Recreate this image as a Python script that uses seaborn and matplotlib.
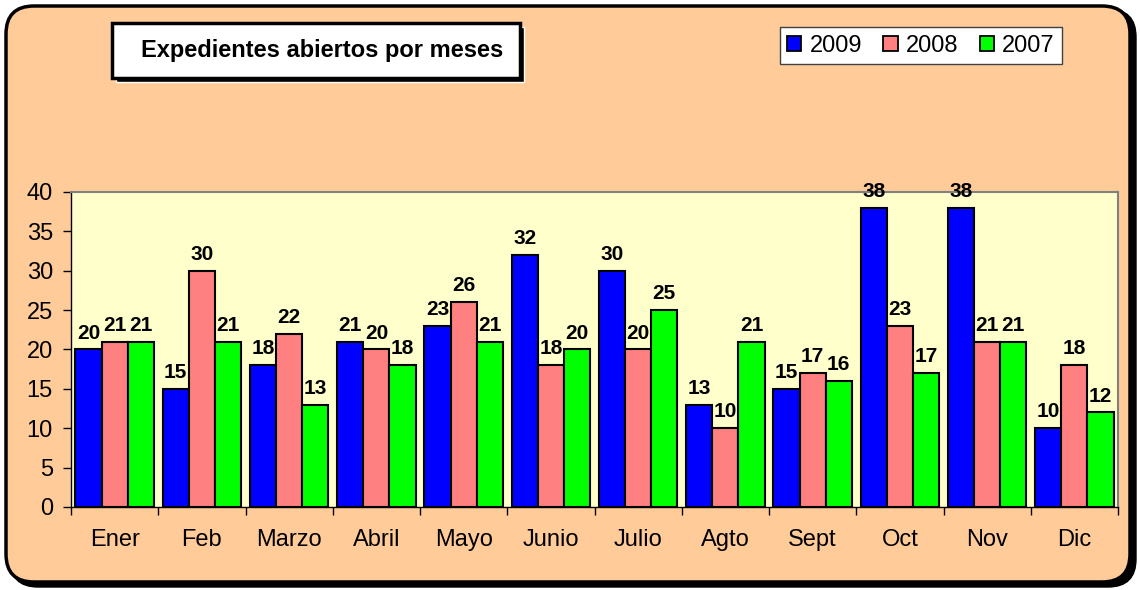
import pandas as pd
import seaborn as sns
import matplotlib as mpl
import matplotlib.pyplot as plt
from matplotlib.patches import FancyBboxPatch, Rectangle, Patch
from matplotlib.ticker import FixedLocator

# data
months = ["Ener", "Feb", "Marzo", "Abril", "Mayo", "Junio", "Julio",
          "Agto", "Sept", "Oct", "Nov", "Dic"]
years = ["2009", "2008", "2007"]
v2009 = [20, 15, 18, 21, 23, 32, 30, 13, 15, 38, 38, 10]
v2008 = [21, 30, 22, 20, 26, 18, 20, 10, 17, 23, 21, 18]
v2007 = [21, 21, 13, 18, 21, 20, 25, 21, 16, 17, 21, 12]
colors = ["#0000FF", "#FF8080", "#00FF00"]

df = pd.DataFrame({"mes": months, "2009": v2009, "2008": v2008, "2007": v2007})
df_long = pd.melt(df, "mes", var_name="year", value_name="value")

sns.set_style("white")
mpl.rcParams["font.family"] = ["Liberation Sans", "DejaVu Sans"]
mpl.rcParams["text.color"] = "black"
mpl.rcParams["xtick.color"] = "black"
mpl.rcParams["ytick.color"] = "black"

fig = plt.figure(figsize=(11.4, 5.9), dpi=100, facecolor="white")

# outer rounded frame with shadow (inch coords keep corners round)
tr = fig.dpi_scale_trans
shadow = FancyBboxPatch((0.10, 0.03), 11.26, 5.78,
                        boxstyle="round,pad=0,rounding_size=0.28",
                        transform=tr, facecolor="black", edgecolor="black",
                        zorder=0)
frame = FancyBboxPatch((0.06, 0.08), 11.24, 5.76,
                       boxstyle="round,pad=0,rounding_size=0.28",
                       transform=tr, facecolor="#FFCC99", edgecolor="black",
                       linewidth=2.5, zorder=1)
fig.patches.extend([shadow, frame])

ax = fig.add_axes([0.0623, 0.1407, 0.9184, 0.5339])
ax.set_zorder(5)

sns.barplot(data=df_long, x="mes", y="value", hue="year", hue_order=years,
            palette=colors, saturation=1, width=0.9, edgecolor="black",
            linewidth=1.5, ax=ax, legend=False)

for c in ax.containers:
    ax.bar_label(c, fontsize=15, fontweight="bold", padding=5, color="black")

ax.set_facecolor("#FFFFCC")
ax.set_ylim(0, 40)
ax.set_yticks(range(0, 41, 5))
ax.set_xlim(-0.5, len(months) - 0.5)
ax.set_xlabel("")
ax.set_ylabel("")
ax.xaxis.set_minor_locator(FixedLocator([i - 0.5 for i in range(len(months) + 1)]))
ax.tick_params(axis="x", which="major", length=0, pad=16, labelsize=17,
               labelcolor="black")
ax.tick_params(axis="x", which="minor", length=6, width=1, color="black",
               direction="out", bottom=True)
ax.tick_params(axis="y", length=6, width=1, color="black", direction="out",
               pad=7, labelsize=17, left=True, labelcolor="black")
for s in ["left", "bottom"]:
    ax.spines[s].set_color("black")
    ax.spines[s].set_linewidth(1)
for s in ["top", "right"]:
    ax.spines[s].set_color("#808080")
    ax.spines[s].set_linewidth(1.5)

# title box with shadow
fig.patches.append(Rectangle((116 / 1140, 1 - 82 / 590), 408 / 1140, 55 / 590,
                             transform=fig.transFigure, facecolor="black",
                             zorder=2))
fig.patches.append(Rectangle((112 / 1140, 1 - 78 / 590), 408 / 1140, 55 / 590,
                             transform=fig.transFigure, facecolor="white",
                             edgecolor="black", linewidth=2.5, zorder=3))
fig.text(322 / 1140, 1 - 51 / 590, "Expedientes abiertos por meses",
         ha="center", va="center", fontsize=17, fontweight="bold", zorder=4)

# legend
handles = [Patch(facecolor=c, edgecolor="black", linewidth=1.3) for c in colors]
leg = fig.legend(handles, years, ncol=3, loc="center",
                 bbox_to_anchor=(921 / 1140, 1 - 45.5 / 590),
                 fontsize=17, handlelength=0.6, handleheight=0.6,
                 handletextpad=0.35, columnspacing=0.9, borderpad=0.3,
                 borderaxespad=0, fancybox=False, edgecolor="#404040",
                 framealpha=1)
leg.get_frame().set_linewidth(1)

fig.savefig("out.png", dpi=100, facecolor="white")
